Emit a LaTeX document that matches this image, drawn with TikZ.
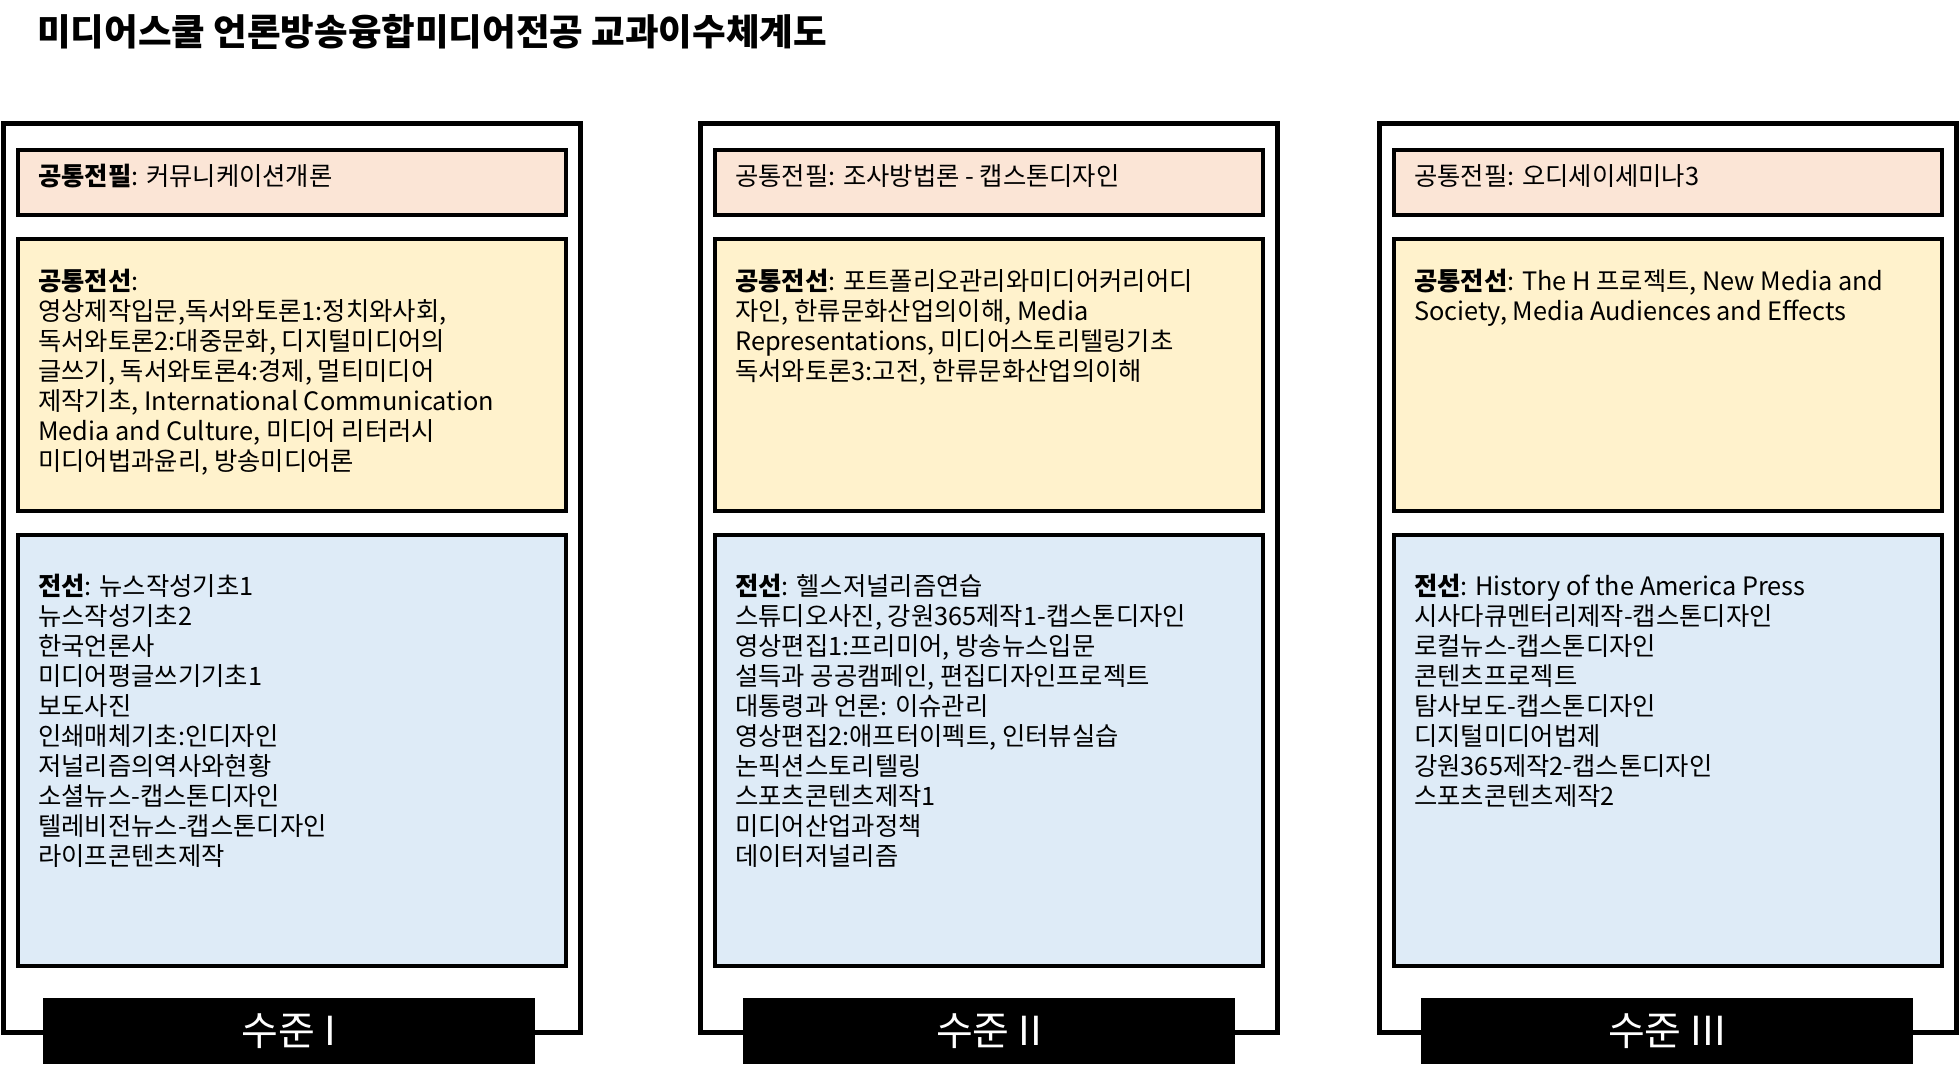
\documentclass[tikz,border=0pt]{standalone}
\usepackage{fontspec}
\setmainfont{Noto Sans CJK KR}
\begin{document}
\begin{tikzpicture}[x=0.75pt,y=0.75pt,yscale=-1,xscale=1,
  outerframe/.style={draw=black,line width=3.75pt},
  pilbox/.style={draw=black,line width=3.4pt,fill={rgb, 255:red, 251; green, 229; blue, 214}},
  comsel/.style={draw=black,line width=3.4pt,fill={rgb, 255:red, 255; green, 242; blue, 204}},
  selbox/.style={draw=black,line width=3.4pt,fill={rgb, 255:red, 222; green, 235; blue, 247}},
  body/.style={anchor=north west,inner sep=0pt,align=left,font=\fontsize{19}{22.5}\selectfont},
  piltext/.style={anchor=west,inner sep=0pt,font=\fontsize{19}{22.5}\selectfont},
  levelbox/.style={fill=black,text=white,minimum width=369pt,minimum height=50pt,inner sep=0pt,font=\fontsize{30}{34}\selectfont}]
\useasboundingbox (0,0) rectangle (1960,1076);

%Title
\node[anchor=west,inner sep=0pt,font=\bfseries\fontsize{27.4}{32}\selectfont] (title) at (37,32) {미디어스쿨 언론방송융합미디어전공 교과이수체계도};

%Level I
\draw[outerframe] (3,123) rectangle (580,1032);
\draw[pilbox] (18,150) rectangle (566,215);
\draw[comsel] (18,239) rectangle (566,511);
\draw[selbox] (18,535) rectangle (566,966);
\node[piltext] (pil1) at (38,176) {\textbf{공통전필}: 커뮤니케이션개론};
\node[body] (com1) at (38,269) {\textbf{공통전선}:\\
영상제작입문,독서와토론1:정치와사회,\\
독서와토론2:대중문화, 디지털미디어의\\
글쓰기, 독서와토론4:경제, 멀티미디어\\
제작기초, International Communication\\
Media and Culture, 미디어 리터러시\\
미디어법과윤리, 방송미디어론};
\node[body] (sel1) at (38,574) {\textbf{전선}: 뉴스작성기초1\\
뉴스작성기초2\\
한국언론사\\
미디어평글쓰기기초1\\
보도사진\\
인쇄매체기초:인디자인\\
저널리즘의역사와현황\\
소셜뉴스-캡스톤디자인\\
텔레비전뉴스-캡스톤디자인\\
라이프콘텐츠제작};
\node[levelbox] (lv1) at (289,1031) {수준 I};

%Level II
\draw[outerframe] (700,123) rectangle (1277,1032);
\draw[pilbox] (715,150) rectangle (1263,215);
\draw[comsel] (715,239) rectangle (1263,511);
\draw[selbox] (715,535) rectangle (1263,966);
\node[piltext] (pil2) at (735,176) {공통전필: 조사방법론 - 캡스톤디자인};
\node[body] (com2) at (735,269) {\textbf{공통전선}: 포트폴리오관리와미디어커리어디\\
자인, 한류문화산업의이해, Media\\
Representations, 미디어스토리텔링기초\\
독서와토론3:고전, 한류문화산업의이해};
\node[body] (sel2) at (735,574) {\textbf{전선}: 헬스저널리즘연습\\
스튜디오사진, 강원365제작1-캡스톤디자인\\
영상편집1:프리미어, 방송뉴스입문\\
설득과 공공캠페인, 편집디자인프로젝트\\
대통령과 언론: 이슈관리\\
영상편집2:애프터이펙트, 인터뷰실습\\
논픽션스토리텔링\\
스포츠콘텐츠제작1\\
미디어산업과정책\\
데이터저널리즘};
\node[levelbox] (lv2) at (989,1031) {수준 II};

%Level III
\draw[outerframe] (1379,123) rectangle (1956,1032);
\draw[pilbox] (1394,150) rectangle (1942,215);
\draw[comsel] (1394,239) rectangle (1942,511);
\draw[selbox] (1394,535) rectangle (1942,966);
\node[piltext] (pil3) at (1414,176) {공통전필: 오디세이세미나3};
\node[body] (com3) at (1414,269) {\textbf{공통전선}: The H 프로젝트, New Media and\\
Society, Media Audiences and Effects};
\node[body] (sel3) at (1414,574) {\textbf{전선}: History of the America Press\\
시사다큐멘터리제작-캡스톤디자인\\
로컬뉴스-캡스톤디자인\\
콘텐츠프로젝트\\
탐사보도-캡스톤디자인\\
디지털미디어법제\\
강원365제작2-캡스톤디자인\\
스포츠콘텐츠제작2};
\node[levelbox] (lv3) at (1667,1031) {수준 III};

\end{tikzpicture}
\end{document}
